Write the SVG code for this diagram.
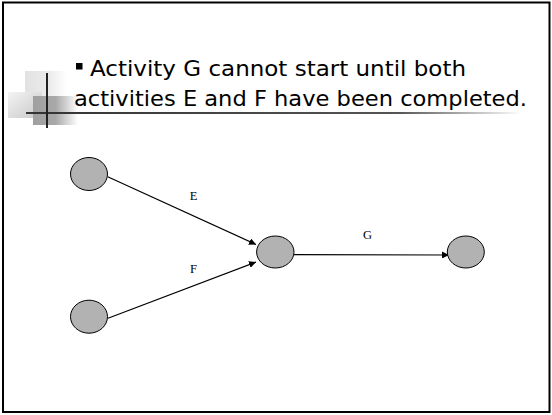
<svg xmlns="http://www.w3.org/2000/svg" width="552" height="415" viewBox="0 0 552 415">
<defs>
<linearGradient id="gLight" x1="0" y1="0" x2="1" y2="0"><stop offset="0" stop-color="#e2e2e2"/><stop offset="0.6" stop-color="#ececec"/><stop offset="1" stop-color="#ffffff"/></linearGradient>
<linearGradient id="gMid" x1="0" y1="0" x2="1" y2="1"><stop offset="0" stop-color="#f4f4f4"/><stop offset="1" stop-color="#c8c8c8"/></linearGradient>
<linearGradient id="gDark" x1="0" y1="0" x2="1" y2="0"><stop offset="0" stop-color="#a0a0a0"/><stop offset="0.5" stop-color="#a8a8a8"/><stop offset="1" stop-color="#ffffff"/></linearGradient>
<linearGradient id="gRule" x1="0" y1="0" x2="1" y2="0"><stop offset="0" stop-color="#333"/><stop offset="0.75" stop-color="#555"/><stop offset="1" stop-color="#fff"/></linearGradient>
<marker id="arr" viewBox="0 0 10 10" refX="10" refY="5" markerWidth="7" markerHeight="7" markerUnits="userSpaceOnUse" orient="auto"><path d="M0,0 L10,5 L0,10 z" fill="#000"/></marker>
</defs>
<style>
.node{fill:#b2b2b2;stroke:#000;stroke-width:1}
.edge{stroke:#000;stroke-width:1.2;fill:none;marker-end:url(#arr)}
.lbl{font-family:"Liberation Serif",serif;font-size:12.5px;fill:#000;text-anchor:middle}
.title{font-family:"DejaVu Sans","Liberation Sans",sans-serif;font-size:21px;fill:#000}
</style>
<rect x="0" y="0" width="552" height="415" fill="#fff"/>
<rect x="3" y="2.5" width="546.5" height="409.5" fill="none" stroke="#000" stroke-width="2"/>
<g id="decoration">
<rect x="25" y="71" width="42" height="40" fill="url(#gLight)"/>
<rect x="8" y="92" width="34" height="26" fill="url(#gMid)"/>
<rect x="33" y="96" width="45" height="29" fill="url(#gDark)"/>
<rect x="26" y="112" width="496" height="2" fill="url(#gRule)"/>
<line x1="47" y1="73" x2="47" y2="128" stroke="#222" stroke-width="2"/>
</g>
<g id="title">
<rect x="76" y="63" width="6.5" height="6.5" fill="#000"/>
<text class="title" x="90" y="76" textLength="376" lengthAdjust="spacingAndGlyphs">Activity G cannot start until both</text>
<text class="title" x="74" y="106" textLength="453" lengthAdjust="spacingAndGlyphs">activities E and F have been completed.</text>
</g>
<g id="connectors">
<line class="edge" x1="107.7" y1="176.7" x2="256" y2="244.5"/>
<line class="edge" x1="108" y1="318.3" x2="256" y2="262"/>
<line class="edge" x1="294" y1="254.7" x2="449" y2="255"/>
<text class="lbl" x="193.5" y="200">E</text>
<text class="lbl" x="193.5" y="272.5">F</text>
<text class="lbl" x="367.5" y="239">G</text>
</g>
<g id="n1"><ellipse class="node" cx="89" cy="174" rx="18.5" ry="16.5"/></g>
<g id="n2"><ellipse class="node" cx="89" cy="316.7" rx="18.5" ry="16.5"/></g>
<g id="n3"><ellipse class="node" cx="275.3" cy="252" rx="18.7" ry="16"/></g>
<g id="n4"><ellipse class="node" cx="465.8" cy="252" rx="18.5" ry="16"/></g>
</svg>
